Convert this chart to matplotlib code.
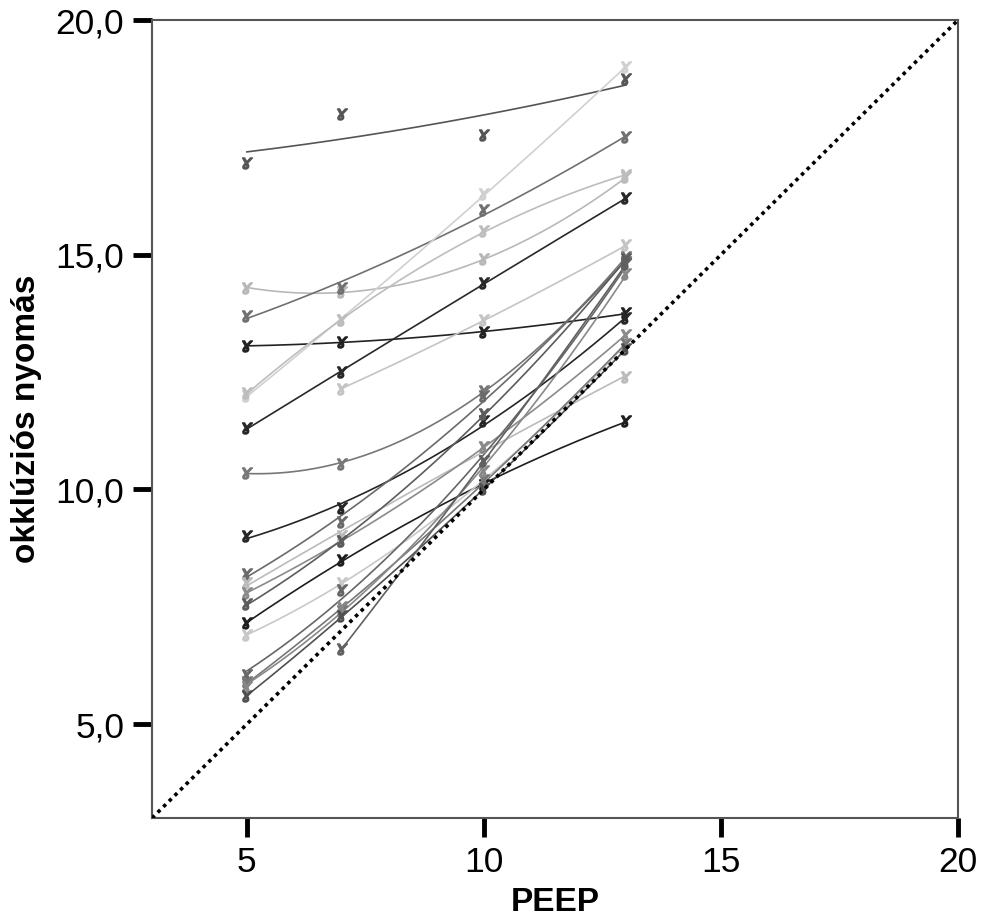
import numpy as np
import matplotlib
matplotlib.use("Agg")
import matplotlib.pyplot as plt

plt.rcParams['font.family'] = ['Liberation Sans', 'DejaVu Sans']

peep = np.array([5, 7, 10, 13])

# occlusion pressure per subject at PEEP 5, 7, 10, 13 (nan = not measured)
s01 = [16.95, 18.0, 17.55, 18.75]
s02 = [14.3, 14.2, 14.9, 16.65]
s03 = [13.7, 14.3, 15.95, 17.5]
s04 = [13.05, 13.15, 13.35, 13.75]
s05 = [12.0, 13.6, 16.3, 19.0]
s06 = [12.05, 13.6, 15.5, 16.7]
s07 = [11.3, 12.5, 14.4, 16.2]
s08 = [np.nan, 12.15, 13.6, 15.2]
s09 = [10.35, 10.55, 12.1, 14.95]
s10 = [9.0, 9.6, 11.45, 13.65]
s11 = [7.15, 8.5, 10.1, 11.45]
s12 = [8.2, 9.3, 12.0, 14.85]
s13 = [8.0, 9.0, 10.9, 12.4]
s14 = [7.8, 8.9, 10.9, 13.3]
s15 = [7.55, 8.9, 11.6, 14.9]
s16 = [6.9, 8.0, 10.2, 13.1]
s17 = [6.05, 7.85, 10.6, 14.8]
s18 = [5.9, 7.4, 10.2, 13.1]
s19 = [5.8, 7.5, 10.4, 14.6]
s20 = [5.6, 7.3, 10.0, 13.0]
s21 = [np.nan, 6.6, 10.6, 14.8]

subjects = [s01, s02, s03, s04, s05, s06, s07, s08, s09, s10, s11,
            s12, s13, s14, s15, s16, s17, s18, s19, s20, s21]
grays = ['#555555', '#b8b8b8', '#707070', '#222222', '#d0d0d0', '#bdbdbd',
         '#282828', '#c4c4c4', '#777777', '#262626', '#1e1e1e',
         '#6a6a6a', '#bbbbbb', '#8a8a8a', '#5c5c5c', '#c8c8c8',
         '#666666', '#777777', '#888888', '#505050', '#606060']

fig = plt.figure(figsize=(9.84, 9.19), dpi=100)
ax = fig.add_axes([0.1545, 0.1099, 0.8191, 0.8683])

for vals, col in zip(subjects, grays):
    y = np.array(vals, dtype=float)
    ok = ~np.isnan(y)
    x = peep[ok]
    y = y[ok]
    coef = np.polyfit(x, y, 2)
    xx = np.linspace(x.min(), x.max(), 200)
    ax.plot(xx, np.polyval(coef, xx), color=col, lw=1.2, zorder=2)
    ax.plot(x, y, linestyle='none', marker='$ɤ$', markersize=8,
            color=col, zorder=3)

# identity line
ax.plot([3, 20], [3, 20], color='black', lw=2.6, linestyle=(0, (1, 1.2)),
        zorder=4)

ax.set_xlim(3, 20)
ax.set_ylim(3, 20)
ax.set_xticks([5, 10, 15, 20])
ax.set_yticks([5, 10, 15, 20])
ax.set_yticklabels(['5,0', '10,0', '15,0', '20,0'])
ax.tick_params(direction='out', length=14, width=3.5, labelsize=25.5,
               color='black', pad=6)
for sp in ax.spines.values():
    sp.set_color('#555555')
    sp.set_linewidth(1.5)

ax.set_xlabel('PEEP', fontsize=24, fontweight='bold', labelpad=6)
ax.set_ylabel('okklúziós nyomás', fontsize=24, fontweight='bold', labelpad=10)

fig.savefig('out.png', dpi=100)
